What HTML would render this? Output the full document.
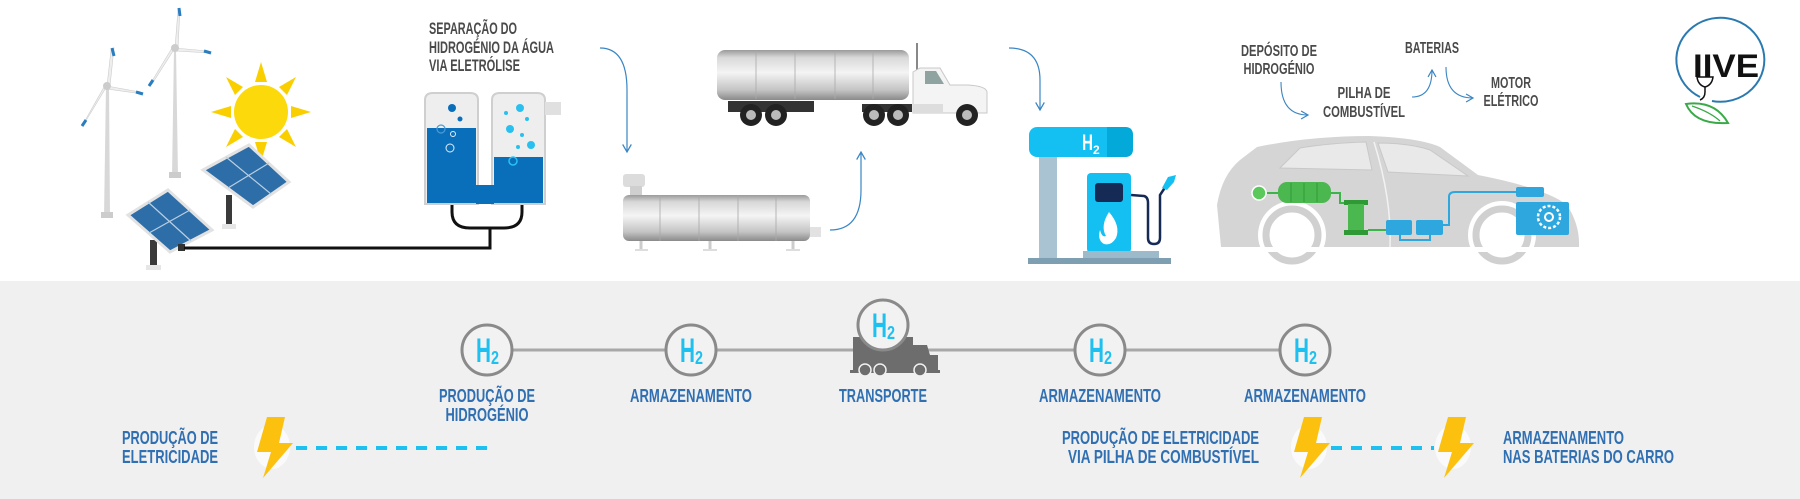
<!DOCTYPE html>
<html><head><meta charset="utf-8"><style>
html,body{margin:0;padding:0;background:#fff;}
svg{display:block;}
text{font-family:"Liberation Sans",sans-serif;font-weight:bold;}
.t{fill:#4a4a4a;font-size:17px;}
.b{fill:#2f6fb2;font-size:18.5px;}
</style></head><body>
<svg width="1800" height="499" viewBox="0 0 1800 499" xmlns="http://www.w3.org/2000/svg">
<defs>
<linearGradient id="tank" x1="0" y1="0" x2="0" y2="1">
<stop offset="0" stop-color="#9a9a9a"/><stop offset="0.15" stop-color="#d8d8d8"/><stop offset="0.45" stop-color="#f4f4f4"/><stop offset="0.8" stop-color="#c4c4c4"/><stop offset="1" stop-color="#8a8a8a"/>
</linearGradient>
<marker id="ar" viewBox="0 0 10 10" refX="8" refY="5" markerWidth="9" markerHeight="9" orient="auto-start-reverse"><path d="M1,1 L8,5 L1,9" fill="none" stroke="#3a86c4" stroke-width="1.2"/></marker>
<g id="h2">
<text x="-11" y="12" style="font-size:34px;fill:#1ec0f0" textLength="15" lengthAdjust="spacingAndGlyphs">H</text>
<text x="4" y="14" style="font-size:18px;fill:#1ec0f0" textLength="8" lengthAdjust="spacingAndGlyphs">2</text>
</g>
</defs>

<rect x="0" y="281" width="1800" height="218" fill="#f0f0f0"/>

<!-- wind turbines -->
<g>
<path d="M106,86 L104,217 L110,217 L109,86Z" fill="#d8d8d8"/>
<rect x="101" y="212" width="12" height="6" fill="#ccc"/>
<path d="M107,86 L111,50 L114,48 L110,86Z" fill="#eee" stroke="#ccc" stroke-width="0.6"/>
<path d="M107,86 L140,92 L143,94 L107,89Z" fill="#eee" stroke="#ccc" stroke-width="0.6"/>
<path d="M107,86 L84,124 L82,126 L104,87Z" fill="#eee" stroke="#ccc" stroke-width="0.6"/>
<path d="M112,48 L114,56" stroke="#2a7ec0" stroke-width="3"/><path d="M136,92 L143,94" stroke="#2a7ec0" stroke-width="3"/><path d="M82,126 L86,120" stroke="#2a7ec0" stroke-width="3"/>
<circle cx="107" cy="86" r="4" fill="#ccc"/>
<path d="M174,48 L172,177 L178,177 L176,48Z" fill="#d8d8d8"/>
<rect x="169" y="172" width="12" height="6" fill="#ccc"/>
<path d="M175,48 L178,10 L180,8 L178,48Z" fill="#eee" stroke="#ccc" stroke-width="0.6"/>
<path d="M175,48 L208,51 L211,53 L175,51Z" fill="#eee" stroke="#ccc" stroke-width="0.6"/>
<path d="M175,48 L152,84 L149,86 L172,48Z" fill="#eee" stroke="#ccc" stroke-width="0.6"/>
<path d="M179,8 L180,16" stroke="#2a7ec0" stroke-width="3"/><path d="M204,51 L211,53" stroke="#2a7ec0" stroke-width="3"/><path d="M149,86 L153,80" stroke="#2a7ec0" stroke-width="3"/>
<circle cx="175" cy="48" r="4" fill="#ccc"/>
</g>

<!-- sun -->
<g fill="#f9cf00">
<circle cx="261" cy="112" r="27" fill="#fbd90a"/>
<polygon points="261,62 255,82 267,82"/><polygon points="261,162 255,142 267,142"/>
<polygon points="211,112 231,106 231,118"/><polygon points="311,112 291,106 291,118"/>
<polygon points="226,77 235,95 243,87"/><polygon points="296,77 279,87 287,95"/>
<polygon points="226,147 243,137 235,129"/><polygon points="296,147 287,129 279,137"/>
</g>

<!-- solar panels -->
<g>
<rect x="226" y="195" width="6" height="32" fill="#3a3a3a"/>
<rect x="222" y="224" width="14" height="5" fill="#e6e6e6"/>
<polygon points="249,145 289,182 253,207 203,170" fill="#2e6ea8" stroke="#e2e2e2" stroke-width="3"/>
<path d="M226,157 L271,194 M269,163 L228,188" stroke="#b9cfe3" stroke-width="1.2"/>
<rect x="150" y="240" width="7" height="28" fill="#3a3a3a"/>
<rect x="146" y="265" width="15" height="5" fill="#e6e6e6"/>
<polygon points="168,190 212,230 170,252 128,215" fill="#2e6ea8" stroke="#e2e2e2" stroke-width="3"/>
<path d="M148,202 L191,241 M190,210 L149,233" stroke="#b9cfe3" stroke-width="1.2"/>
<rect x="178" y="244" width="7" height="7" fill="#333"/>
</g>

<path d="M184,248 L490,248 L490,228 M452,190 L452,212 Q452,228 470,228 L504,228 Q522,228 522,212 L522,190" fill="none" stroke="#111" stroke-width="3"/>

<!-- electrolyzer -->
<g>
<path d="M425,204 L425,100 Q425,93 433,93 L470,93 Q478,93 478,100 L478,204Z" fill="#eeeeee" stroke="#cfcfcf" stroke-width="2"/>
<path d="M492,204 L492,100 Q492,93 500,93 L537,93 Q545,93 545,100 L545,204Z" fill="#eeeeee" stroke="#cfcfcf" stroke-width="2"/>
<rect x="545" y="102" width="16" height="13" fill="#e0e0e0"/>
<rect x="427" y="128" width="49" height="75" fill="#0a6fbb"/>
<rect x="494" y="157" width="49" height="46" fill="#0a6fbb"/>
<rect x="476" y="185" width="18" height="19" fill="#0a6fbb"/>
<circle cx="452" cy="108" r="4" fill="#0a6fbb"/><circle cx="460" cy="119" r="2.5" fill="#0a6fbb"/>
<circle cx="441" cy="129" r="4" fill="none" stroke="#4a9ad6" stroke-width="1.2"/><circle cx="453" cy="134" r="2.5" fill="none" stroke="#dfeefa" stroke-width="1"/><circle cx="450" cy="148" r="4" fill="none" stroke="#dfeefa" stroke-width="1"/>
<circle cx="520" cy="108" r="4" fill="#29c0f0"/><circle cx="506" cy="113" r="2" fill="#29c0f0"/><circle cx="527" cy="119" r="2" fill="#29c0f0"/>
<circle cx="510" cy="129" r="4" fill="#29c0f0"/><circle cx="522" cy="135" r="2" fill="#29c0f0"/><circle cx="531" cy="145" r="4" fill="#29c0f0"/><circle cx="518" cy="147" r="2" fill="#29c0f0"/>
<circle cx="513" cy="161" r="4" fill="none" stroke="#29c0f0" stroke-width="1.5"/>
</g>
<text class="t" x="429" y="34" textLength="88" lengthAdjust="spacingAndGlyphs">SEPARAÇÃO DO</text>
<text class="t" x="429" y="53" textLength="125" lengthAdjust="spacingAndGlyphs">HIDROGÉNIO DA ÁGUA</text>
<text class="t" x="429" y="71" textLength="91" lengthAdjust="spacingAndGlyphs">VIA ELETRÓLISE</text>

<path d="M600,48 Q627,48 627,90 L627,152" fill="none" stroke="#3a86c4" stroke-width="1.2" marker-end="url(#ar)"/>
<path d="M830,230 Q861,230 861,190 L861,152" fill="none" stroke="#3a86c4" stroke-width="1.2" marker-end="url(#ar)"/>
<path d="M1009,48 Q1040,48 1040,80 L1040,110" fill="none" stroke="#3a86c4" stroke-width="1.2" marker-end="url(#ar)"/>

<!-- storage tank -->
<g>
<rect x="623" y="174" width="22" height="13" rx="3" fill="#dcdcdc"/>
<rect x="630" y="186" width="12" height="9" fill="#cfcfcf"/>
<rect x="623" y="195" width="187" height="46" rx="6" fill="url(#tank)"/>
<path d="M660,195 V241 M699,195 V241 M738,195 V241 M776,195 V241" stroke="#a8a8a8" stroke-width="0.8"/>
<rect x="810" y="227" width="11" height="10" fill="#e2e2e2"/>
<path d="M641,241 V249 M710,241 V249 M793,241 V249" stroke="#ccc" stroke-width="3"/>
<path d="M635,250 H648 M703,250 H717 M786,250 H800" stroke="#ddd" stroke-width="2"/>
</g>

<!-- tanker truck -->
<g>
<rect x="717" y="50" width="192" height="50" rx="8" fill="url(#tank)"/>
<path d="M756,51 V99 M795,51 V99 M835,51 V99 M873,51 V99" stroke="#aaa" stroke-width="0.8"/>
<rect x="728" y="101" width="86" height="11" fill="#333"/>
<rect x="862" y="104" width="50" height="8" fill="#333"/>
<rect x="916" y="43" width="2" height="60" fill="#888"/>
<path d="M913,72 L913,113 L987,113 L987,92 Q986,86 968,85 L950,85 L940,68 L920,68Z" fill="#f4f4f4" stroke="#c8c8c8"/>
<path d="M925,71 L936,71 L944,84 L925,84Z" fill="#8fa3a0"/>
<rect x="913" y="104" width="30" height="9" fill="#ddd"/>
<g fill="#222"><circle cx="751" cy="115" r="11"/><circle cx="776" cy="115" r="11"/><circle cx="874" cy="115" r="11"/><circle cx="898" cy="115" r="11"/><circle cx="967" cy="115" r="11"/></g>
<g fill="#bbb"><circle cx="751" cy="115" r="5"/><circle cx="776" cy="115" r="5"/><circle cx="874" cy="115" r="5"/><circle cx="898" cy="115" r="5"/><circle cx="967" cy="115" r="5"/></g>
</g>

<!-- fuel station -->
<g>
<rect x="1039" y="150" width="18" height="108" fill="#a9c3d3"/>
<rect x="1029" y="127" width="104" height="30" rx="8" fill="#14c0f2"/>
<path d="M1107,127 H1125 Q1133,127 1133,135 V149 Q1133,157 1125,157 H1107Z" fill="#03a9d8"/>
<text x="1082" y="150" style="fill:#fff;font-size:22px" textLength="11" lengthAdjust="spacingAndGlyphs">H</text>
<text x="1093" y="154" style="fill:#fff;font-size:12px">2</text>
<rect x="1087" y="173" width="44" height="80" rx="4" fill="#14c0f2"/>
<rect x="1095" y="183" width="28" height="19" rx="3" fill="#152a55"/>
<path d="M1109,212 Q1121,226 1116,238 Q1111,246 1104,244 Q1097,240 1100,230 Q1102,238 1106,236 Q1100,226 1109,212Z" fill="#fff"/>
<path d="M1131,195 L1144,196 Q1148,197 1148,203 L1148,238 Q1148,244 1154,244 Q1160,244 1160,238 L1160,195 L1166,186" fill="none" stroke="#152a55" stroke-width="2.5"/>
<path d="M1162,188 L1168,177 L1176,175 L1174,182 L1167,190Z" fill="#14c0f2"/>
<rect x="1083" y="251" width="76" height="8" fill="#9dbacb"/>
<rect x="1028" y="258" width="143" height="6" fill="#7e9fb2"/>
</g>

<!-- car -->
<g>
<path d="M1221,247 L1217,205 Q1222,175 1240,160 L1257,147 Q1310,136 1370,136 Q1420,138 1440,147 L1478,175 Q1545,188 1567,205 Q1580,225 1579,247Z" fill="#d5d5d5"/>
<path d="M1280,168 L1300,148 Q1330,143 1366,142 L1372,170Z" fill="#e9e9e9" stroke="#c8c8c8"/>
<path d="M1378,143 Q1410,143 1430,150 L1468,176 L1388,172Z" fill="#e9e9e9" stroke="#c8c8c8"/>
<path d="M1374,142 Q1392,200 1390,247" fill="none" stroke="#f2f2f2" stroke-width="1.5"/>
<circle cx="1292" cy="235" r="34" fill="#fff"/><circle cx="1502" cy="235" r="34" fill="#fff"/>
<circle cx="1292" cy="235" r="26" fill="none" stroke="#d0d0d0" stroke-width="7"/>
<circle cx="1502" cy="235" r="26" fill="none" stroke="#d0d0d0" stroke-width="7"/>
<rect x="1217" y="247" width="362" height="5" fill="#fff"/>
<path d="M1267,193 H1280 M1330,193 H1340 V203 H1344 M1368,230 H1386" stroke="#3cb44a" stroke-width="2" fill="none"/>
<circle cx="1259" cy="193" r="7" fill="#5ac85a" stroke="#fff" stroke-width="1.5"/>
<rect x="1278" y="182" width="53" height="21" rx="9" fill="#4ab84e"/>
<path d="M1291,183 V202 M1304,183 V202 M1317,183 V202" stroke="#2f9a35" stroke-width="1"/>
<rect x="1344" y="200" width="24" height="5" fill="#2f9a35"/><rect x="1348" y="204" width="16" height="27" fill="#4ab84e"/><rect x="1344" y="230" width="24" height="5" fill="#2f9a35"/>
<path d="M1400,235 V240 H1430 V235 M1443,225 H1449 V197 Q1449,192 1455,192 H1516" stroke="#2ea7df" stroke-width="2" fill="none"/>
<rect x="1386" y="220" width="26" height="15" rx="2" fill="#2ea7df"/>
<rect x="1416" y="220" width="27" height="15" rx="2" fill="#2ea7df"/>
<rect x="1516" y="187" width="28" height="10" rx="2" fill="#2ea7df"/>
<rect x="1516" y="202" width="53" height="33" rx="2" fill="#2ea7df"/>
<circle cx="1549" cy="217" r="11" fill="none" stroke="#fff" stroke-width="2.5" stroke-dasharray="3 2"/>
<circle cx="1549" cy="217" r="4" fill="none" stroke="#fff" stroke-width="2"/>
</g>
<g style="font-size:16px">
<text class="t" x="1279" y="56" text-anchor="middle" style="font-size:16px" textLength="76" lengthAdjust="spacingAndGlyphs">DEPÓSITO DE</text>
<text class="t" x="1279" y="74" text-anchor="middle" style="font-size:16px" textLength="71" lengthAdjust="spacingAndGlyphs">HIDROGÉNIO</text>
<text class="t" x="1432" y="53" text-anchor="middle" style="font-size:16px" textLength="54" lengthAdjust="spacingAndGlyphs">BATERIAS</text>
<text class="t" x="1364" y="98" text-anchor="middle" style="font-size:16px" textLength="53" lengthAdjust="spacingAndGlyphs">PILHA DE</text>
<text class="t" x="1364" y="117" text-anchor="middle" style="font-size:16px" textLength="82" lengthAdjust="spacingAndGlyphs">COMBUSTÍVEL</text>
<text class="t" x="1511" y="88" text-anchor="middle" style="font-size:16px" textLength="40" lengthAdjust="spacingAndGlyphs">MOTOR</text>
<text class="t" x="1511" y="106" text-anchor="middle" style="font-size:16px" textLength="55" lengthAdjust="spacingAndGlyphs">ELÉTRICO</text>
</g>
<path d="M1281,82 Q1281,115 1308,115" fill="none" stroke="#3a86c4" stroke-width="1.1" marker-end="url(#ar)"/>
<path d="M1412,97 Q1432,97 1432,70" fill="none" stroke="#3a86c4" stroke-width="1.1" marker-end="url(#ar)"/>
<path d="M1446,67 Q1446,98 1473,98" fill="none" stroke="#3a86c4" stroke-width="1.1" marker-end="url(#ar)"/>

<!-- logo -->
<g>
<path d="M1700,97 A44,42 0 1 1 1712,101" fill="none" stroke="#2a7ab0" stroke-width="2"/>
<text x="1726" y="77" text-anchor="middle" style="font-size:32px;fill:#111" textLength="66" lengthAdjust="spacingAndGlyphs">IIVE</text>
<path d="M1697,77 H1713 Q1712,85 1705,87 Q1698,85 1697,77Z" fill="#fff" stroke="#111" stroke-width="1.5"/>
<path d="M1705,87 V92 Q1705,98 1700,100" fill="none" stroke="#111" stroke-width="1.5"/>
<path d="M1686,104 Q1715,100 1728,123 Q1695,125 1686,104Z" fill="none" stroke="#3aaa48" stroke-width="2"/>
<path d="M1692,106 Q1710,112 1720,121" stroke="#3aaa48" stroke-width="1.2" fill="none"/>
</g>

<!-- bottom timeline -->
<line x1="487" y1="350" x2="1305" y2="350" stroke="#a8a8a8" stroke-width="3"/>
<g fill="#f2f2f2" stroke="#8a8a8a" stroke-width="3">
<circle cx="487" cy="350" r="25"/><circle cx="691" cy="350" r="25"/><circle cx="1100" cy="350" r="25"/><circle cx="1305" cy="350" r="25"/>
</g>
<g fill="#6d6d6d">
<rect x="853" y="337" width="60" height="35"/>
<path d="M913,345 H927 L930,355 H938 V372 H913Z"/>
<rect x="850" y="370" width="90" height="3"/>
<circle cx="865" cy="370" r="6" stroke="#f0f0f0" stroke-width="1.5"/><circle cx="880" cy="370" r="6" stroke="#f0f0f0" stroke-width="1.5"/><circle cx="920" cy="370" r="6" stroke="#f0f0f0" stroke-width="1.5"/>
</g>
<circle cx="883" cy="325" r="25" fill="#f2f2f2" stroke="#8a8a8a" stroke-width="3"/>
<use href="#h2" x="487" y="350"/>
<use href="#h2" x="691" y="350"/>
<use href="#h2" x="883" y="325"/>
<use href="#h2" x="1100" y="350"/>
<use href="#h2" x="1305" y="350"/>

<text class="b" x="487" y="402" text-anchor="middle" textLength="96" lengthAdjust="spacingAndGlyphs">PRODUÇÃO DE</text>
<text class="b" x="487" y="421" text-anchor="middle" textLength="83" lengthAdjust="spacingAndGlyphs">HIDROGÉNIO</text>
<text class="b" x="691" y="402" text-anchor="middle" textLength="122" lengthAdjust="spacingAndGlyphs">ARMAZENAMENTO</text>
<text class="b" x="883" y="402" text-anchor="middle" textLength="88" lengthAdjust="spacingAndGlyphs">TRANSPORTE</text>
<text class="b" x="1100" y="402" text-anchor="middle" textLength="122" lengthAdjust="spacingAndGlyphs">ARMAZENAMENTO</text>
<text class="b" x="1305" y="402" text-anchor="middle" textLength="122" lengthAdjust="spacingAndGlyphs">ARMAZENAMENTO</text>

<text class="b" x="122" y="444" textLength="96" lengthAdjust="spacingAndGlyphs">PRODUÇÃO DE</text>
<text class="b" x="122" y="463" textLength="96" lengthAdjust="spacingAndGlyphs">ELETRICIDADE</text>
<text class="b" x="1259" y="444" text-anchor="end" textLength="197" lengthAdjust="spacingAndGlyphs">PRODUÇÃO DE ELETRICIDADE</text>
<text class="b" x="1259" y="463" text-anchor="end" textLength="191" lengthAdjust="spacingAndGlyphs">VIA PILHA DE COMBUSTÍVEL</text>
<text class="b" x="1503" y="444" textLength="121" lengthAdjust="spacingAndGlyphs">ARMAZENAMENTO</text>
<text class="b" x="1503" y="463" textLength="171" lengthAdjust="spacingAndGlyphs">NAS BATERIAS DO CARRO</text>

<g stroke="#1ec0f0" stroke-width="4" stroke-dasharray="11 9">
<line x1="296" y1="448" x2="490" y2="448"/>
<line x1="1331" y1="448" x2="1434" y2="448"/>
</g>
<g>
<ellipse cx="272" cy="447" rx="18" ry="22" fill="#fafafa"/>
<polygon points="267,417 285,417 279,443 293,443 263,478 271,452 257,452" fill="#fcc10f"/>
<ellipse cx="1309" cy="447" rx="18" ry="22" fill="#fafafa"/>
<polygon points="1304,417 1322,417 1316,443 1330,443 1300,478 1308,452 1294,452" fill="#fcc10f"/>
<ellipse cx="1453" cy="447" rx="18" ry="22" fill="#fafafa"/>
<polygon points="1448,417 1466,417 1460,443 1474,443 1444,478 1452,452 1438,452" fill="#fcc10f"/>
</g>
</svg>
</body></html>
